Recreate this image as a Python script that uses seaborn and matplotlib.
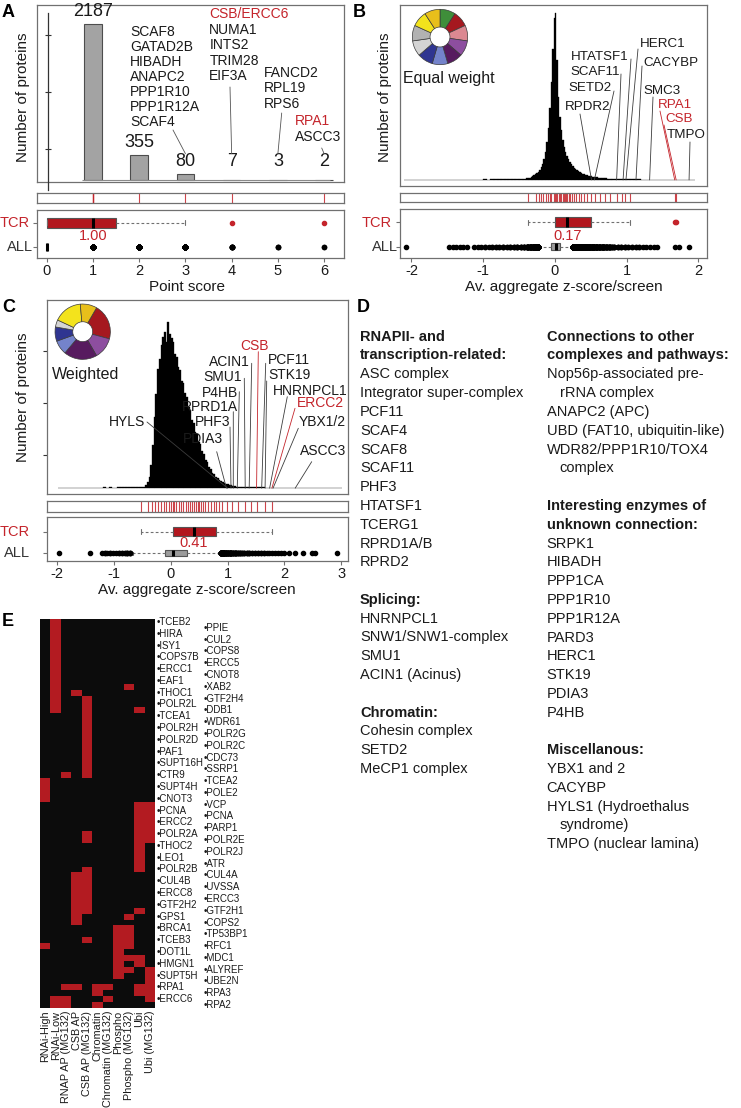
import numpy as np
import pandas as pd
import matplotlib
matplotlib.use("Agg")
import matplotlib.pyplot as plt
from matplotlib.colors import ListedColormap
import seaborn as sns

# ============================ DATA ============================
# ---- Panel A : point score histogram ----
a_scores = [1, 2, 3, 4, 5, 6]
a_counts = [2187, 355, 80, 7, 3, 2]
a_zero_count = 9000                      # proteins with point score 0 (estimated, not drawn as a bar)
a_tcr_scores = [0, 0, 0, 0, 0, 1, 1, 1, 1, 1, 1, 2, 3, 4, 6]
a_genes_s3 = ["SCAF8", "GATAD2B", "HIBADH", "ANAPC2", "PPP1R10", "PPP1R12A", "SCAF4"]
a_genes_s4 = ["CSB/ERCC6", "NUMA1", "INTS2", "TRIM28", "EIF3A"]
a_genes_s5 = ["FANCD2", "RPL19", "RPS6"]
a_genes_s6 = ["RPA1", "ASCC3"]
a_red_genes = ["CSB/ERCC6", "RPA1"]

# ---- Panel B : equal weight z-score histogram (bin counts) ----
b_left_tail_counts = [1, 0, 0, 0, 0, 0, 0, 0, 0, 0, 0, 0, 1, 1, 1, 1, 1, 1, 0, 1,
                      1, 1, 2, 1, 2, 2, 2, 3, 2, 3, 3, 4, 4, 5]            # -2.10 .. -0.40 (0.05 bins)
b_core_counts = [6, 7, 8, 10, 13, 16, 20, 24, 30, 37, 46, 58, 76, 100, 138, 186, 258, 352, 470, 584,
                 600, 432, 300, 228, 180, 144, 120, 102, 87, 75, 66, 57, 50, 44, 39, 34,
                 31, 28, 25, 23, 21, 19, 17, 15, 14, 13, 12, 11, 10, 9, 8, 8, 7, 7, 6, 6, 5, 5, 5, 4]  # -0.40 .. 0.80 (0.02 bins)
b_right_tail_counts = [4, 3, 3, 3, 2, 2, 2, 2, 1, 1, 1, 1, 1, 0, 0, 0, 0, 1, 1, 0, 0, 1, 0]  # 0.80 .. 1.95 (0.05 bins)
b_tcr = [-0.38, -0.27, -0.22, -0.19, -0.16, -0.13, -0.10, -0.07, -0.05, -0.02, 0.00,
         0.02, 0.03, 0.05, 0.07, 0.09, 0.11, 0.13, 0.14, 0.16, 0.17,
         0.19, 0.21, 0.24, 0.27, 0.30, 0.33, 0.37, 0.41, 0.45, 0.50,
         0.56, 0.63, 0.70, 0.77, 0.86, 0.93, 0.98, 1.05, 1.67, 1.69]
b_gene_names = ["HTATSF1", "SCAF11", "SETD2", "RPDR2", "HERC1", "CACYBP", "SMC3", "RPA1", "CSB", "TMPO"]
b_gene_x = [0.95, 0.86, 0.55, 0.51, 0.99, 1.13, 1.32, 1.67, 1.69, 1.87]
b_red_genes = ["RPA1", "CSB"]
b_wheel_weights = [1, 1, 1, 1, 1, 1, 1, 1, 1, 1, 1]

# ---- Panel C : weighted z-score histogram (bin counts) ----
c_left_tail_counts = [1, 0, 0, 0, 0, 0, 0, 0, 0, 0, 0, 1, 0, 0, 0, 1, 2, 1, 2, 1,
                      1, 2, 2, 2, 3, 3, 3, 4, 4]                            # -1.99 .. -0.54 (0.05 bins)
c_core_counts = [2, 2, 4, 7, 14, 28, 56, 104, 172, 226, 286, 310, 344, 362, 376, 352, 400, 370,
                 360, 350, 322, 316, 290, 284, 258, 252, 228, 220, 196, 188, 164, 156, 136, 131,
                 112, 107, 89, 82, 68, 62, 50, 45, 37, 33, 26, 24, 19, 18, 14, 13, 11, 9, 8, 7,
                 6, 5, 4, 4, 4, 3]                                          # -0.54 .. 1.26 (0.03 bins)
c_right_tail_counts = [3, 3, 3, 2, 2, 2, 2, 2, 1, 1, 1, 1, 1, 1, 1, 0, 1, 0, 1, 0,
                       0, 1, 0, 0, 1, 1, 0, 0, 0, 0, 0, 0, 0, 1, 0]         # 1.26 .. 3.01 (0.05 bins)
c_tcr = [-0.53, -0.40, -0.33, -0.27, -0.22, -0.17, -0.12, -0.08, -0.04, 0.00, 0.03,
         0.06, 0.10, 0.14, 0.18, 0.22, 0.26, 0.30, 0.34, 0.38, 0.41,
         0.44, 0.47, 0.50, 0.53, 0.57, 0.61, 0.66, 0.71, 0.76, 0.80,
         0.84, 0.90, 0.99, 1.07, 1.19, 1.31, 1.42, 1.51, 1.66, 1.78]
c_gene_names = ["HYLS", "PDIA3", "PHF3", "RPRD1A", "P4HB", "SMU1", "ACIN1", "CSB",
                "PCF11", "STK19", "HNRNPCL1", "ERCC2", "YBX1/2", "ASCC3"]
c_gene_x = [1.00, 0.98, 1.06, 1.10, 1.17, 1.31, 1.38, 1.51, 1.60, 1.66, 1.74, 1.78, 1.80, 2.19]
c_red_genes = ["CSB", "ERCC2"]
c_wheel_weights = [0, 75, 0, 45, 70, 30, 30, 15, 0, 60, 35]

# ---- Panel D : text lists ----
d_col1 = [
    (["RNAPII- and", "transcription-related:"],
     ["ASC complex", "Integrator super-complex", "PCF11", "SCAF4", "SCAF8", "SCAF11", "PHF3",
      "HTATSF1", "TCERG1", "RPRD1A/B", "RPRD2"]),
    (["Splicing:"], ["HNRNPCL1", "SNW1/SNW1-complex", "SMU1", "ACIN1 (Acinus)"]),
    (["Chromatin:"], ["Cohesin complex", "SETD2", "MeCP1 complex"]),
]
d_col2 = [
    (["Connections to other", "complexes and pathways:"],
     ["Nop56p-associated pre-", ">rRNA complex", "ANAPC2 (APC)", "UBD (FAT10, ubiquitin-like)",
      "WDR82/PPP1R10/TOX4", ">complex"]),
    (["Interesting enzymes of", "unknown connection:"],
     ["SRPK1", "HIBADH", "PPP1CA", "PPP1R10", "PPP1R12A", "PARD3", "HERC1", "STK19", "PDIA3", "P4HB"]),
    (["Miscellanous:"], ["YBX1 and 2", "CACYBP", "HYLS1 (Hydroethalus", ">syndrome)", "TMPO (nuclear lamina)"]),
]

# ---- Panel E : hit matrix ----
e_columns = ["RNAi-High", "RNAi-Low", "RNAP AP (MG132)", "CSB AP", "CSB AP (MG132)", "Chromatin",
             "Chromatin (MG132)", "Phospho", "Phospho (MG132)", "Ubi", "Ubi (MG132)"]
e_genes_left = ["TCEB2", "HIRA", "ISY1", "COPS7B", "ERCC1", "EAF1", "THOC1", "POLR2L", "TCEA1",
                "POLR2H", "POLR2D", "PAF1", "SUPT16H", "CTR9", "SUPT4H", "CNOT3", "PCNA", "ERCC2",
                "POLR2A", "THOC2", "LEO1", "POLR2B", "CUL4B", "ERCC8", "GTF2H2", "GPS1", "BRCA1",
                "TCEB3", "DOT1L", "HMGN1", "SUPT5H", "RPA1", "ERCC6"]
e_genes_right = ["PPIE", "CUL2", "COPS8", "ERCC5", "CNOT8", "XAB2", "GTF2H4", "DDB1", "WDR61",
                 "POLR2G", "POLR2C", "CDC73", "SSRP1", "TCEA2", "POLE2", "VCP", "PCNA", "PARP1",
                 "POLR2E", "POLR2J", "ATR", "CUL4A", "UVSSA", "ERCC3", "GTF2H1", "COPS2", "TP53BP1",
                 "RFC1", "MDC1", "ALYREF", "UBE2N", "RPA3", "RPA2"]
# row indices (rows interleave left/right gene lists) where each dataset scored a hit
e_hits = {
    "RNAi-High": [27, 28, 29, 30, 55],
    "RNAi-Low": [0, 1, 2, 3, 4, 5, 6, 7, 8, 9, 10, 11, 12, 13, 14, 15, 64, 65],
    "RNAP AP (MG132)": [26, 62, 64, 65],
    "CSB AP": [12, 43, 44, 45, 46, 47, 48, 49, 50, 51, 62],
    "CSB AP (MG132)": [13, 14, 15, 16, 17, 18, 19, 20, 21, 22, 23, 24, 25, 26, 36, 37,
                       42, 43, 44, 45, 46, 47, 48, 49, 54],
    "Chromatin": [62, 63, 65],
    "Chromatin (MG132)": [62, 64],
    "Phospho": [52, 53, 54, 55, 56, 57, 58, 59, 60],
    "Phospho (MG132)": [11, 50, 52, 53, 54, 55, 57, 59],
    "Ubi": [15, 31, 32, 33, 34, 35, 36, 37, 38, 39, 40, 41, 42, 49, 57, 58, 62, 63],
    "Ubi (MG132)": [31, 32, 33, 34, 35, 36, 37, 59, 60, 61, 62, 63, 64],
}

# ============================ STYLE ============================
W, H = 741, 1108
RED = "#C4242B"
BOXRED = "#B2171E"
HEATRED = "#B31B21"
FRAME = "#707070"
TXT = "#1a1a1a"
wheel_colors = ["#3F8E3A", "#A5181F", "#DB8891", "#8D4E9F", "#571B5F", "#7483CB",
                "#2F3591", "#D4D4D4", "#B2B2B2", "#F3E31C", "#E8BF1B"]

sns.set_style("white")
plt.rcParams["font.family"] = ["Liberation Sans", "DejaVu Sans"]
plt.rcParams["axes.linewidth"] = 0.9

fig = plt.figure(figsize=(W / 100, H / 100), dpi=100)


def add_ax(x0, y0, x1, y1):
    return fig.add_axes([x0 / W, 1 - y1 / H, (x1 - x0) / W, (y1 - y0) / H])


def ftext(x, y, s, **kw):
    kw.setdefault("color", TXT)
    return fig.text(x / W, 1 - y / H, s, **kw)


def framed(ax):
    for sp in ax.spines.values():
        sp.set_visible(True)
        sp.set_color(FRAME)
        sp.set_linewidth(0.9)


def leader(ax, gx, start, color, ycoord="data", gy=0):
    ax.annotate("", xy=(gx, gy), xycoords=("data", ycoord),
                xytext=(start[0], H - start[1]), textcoords="figure pixels",
                arrowprops=dict(arrowstyle="-", color=color, lw=0.6, shrinkA=0, shrinkB=0))


def hist_from_bins(ax, edges, counts):
    centers = (edges[:-1] + edges[1:]) / 2
    dfh = pd.DataFrame({"center": centers, "count": np.asarray(counts, dtype=float)})
    sns.histplot(data=dfh, x="center", weights="count", bins=list(edges), ax=ax, color="black",
                 edgecolor="black", linewidth=0.25, alpha=1, stat="count")
    ax.set_xlabel("")
    ax.set_ylabel("")
    return np.repeat(centers, counts)


def rug(ax, values, xlim):
    sns.rugplot(x=values, ax=ax, height=1, color=RED, linewidth=0.8, alpha=0.85, expand_margins=False)
    ax.set_xlim(*xlim)
    ax.set_ylim(0, 1)
    ax.set_xticks([])
    ax.set_yticks([])
    ax.set_xlabel("")
    framed(ax)


def boxes(ax, tcr_vals, all_vals, xlim, ticks, ylim=(1.46, -0.54), label_y=0.56):
    df_t = pd.DataFrame({"group": "TCR", "value": np.asarray(tcr_vals, dtype=float)})
    df_a = pd.DataFrame({"group": "ALL", "value": np.asarray(all_vals, dtype=float)})
    common = dict(x="value", y="group", order=["TCR", "ALL"], orient="h", whis=1.5, ax=ax,
                  saturation=1, linecolor="#555555", linewidth=0.8,
                  whiskerprops=dict(linestyle=(0, (2.5, 2)), color="#707070", linewidth=0.8),
                  capprops=dict(color="#707070", linewidth=0.8),
                  medianprops=dict(color="black", linewidth=2.2))
    sns.boxplot(data=df_t, color=BOXRED, width=0.42,
                flierprops=dict(marker="o", markersize=3, markerfacecolor=RED, markeredgecolor=RED),
                **common)
    sns.boxplot(data=df_a, color="#9c9c9c", width=0.3,
                flierprops=dict(marker="o", markersize=3, markerfacecolor="black",
                                markeredgecolor="black"),
                **common)
    med = np.median(tcr_vals)
    ax.text(med, label_y, f"{med:.2f}", color=RED, ha="center", va="center", fontsize=10.5)
    ax.set_xlim(*xlim)
    ax.set_ylim(*ylim)
    ax.set_xticks(ticks)
    ax.set_xticklabels([f"{t:g}" for t in ticks])
    ax.set_yticks([0, 1])
    ax.set_yticklabels([])
    ax.set_xlabel("")
    ax.set_ylabel("")
    ax.tick_params(axis="x", bottom=True, direction="out", length=3, pad=1, labelsize=10.5,
                   color=FRAME, labelcolor=TXT)
    ax.tick_params(axis="y", left=True, direction="out", length=3, color=FRAME)
    framed(ax)


def wheel(cx, cy, r, weights):
    ax = add_ax(cx - r, cy - r, cx + r, cy + r)
    w = [v for v in weights if v > 0]
    c = [col for v, col in zip(weights, wheel_colors) if v > 0]
    start = 90 if len(set(weights)) == 1 else 60
    ax.pie(w, colors=c, startangle=start, counterclock=False, radius=1,
           wedgeprops=dict(width=0.64, edgecolor="#3a3a3a", linewidth=0.5))
    ax.set_xlim(-1.03, 1.03)
    ax.set_ylim(-1.03, 1.03)
    ax.set_aspect("equal")
    ax.axis("off")


# ============================ PANEL A ============================
A_XLIM = (-0.21, 6.43)
axA = add_ax(37, 5, 344, 182)
sns.barplot(x=a_scores, y=a_counts, native_scale=True, width=0.38, color="#a3a3a3",
            edgecolor="#4d4d4d", linewidth=0.8, saturation=1, errorbar=None, ax=axA)
axA.set_xlim(*A_XLIM)
axA.set_ylim(-28, 2454)
axA.hlines(0, 0.76, 6.13, color="#8a8a8a", lw=0.8)
for s, c in zip(a_scores, a_counts):
    axA.annotate(str(c), xy=(s, max(c, 80)), xytext=(0, 3), textcoords="offset points",
                 ha="center", va="bottom", fontsize=13, color=TXT)
axA.set_xticks([])
axA.set_yticks([])
axA.set_xlabel("")
axA.set_ylabel("")
framed(axA)

axAy = add_ax(48, 5, 344, 182)
axAy.patch.set_visible(False)
for k, sp in axAy.spines.items():
    sp.set_visible(k == "left")
axAy.spines["left"].set_color("#333333")
axAy.spines["left"].set_bounds(-140, 2340)
axAy.set_ylim(-28, 2454)
axAy.set_yticks([440, 1240, 2030])
axAy.set_xticks([])
axAy.tick_params(axis="y", left=True, direction="inout", length=5, labelleft=False, color="#333333")

a_lists = [(a_genes_s3, 3, (130, 31.7), 15.0, (173, 130)),
           (a_genes_s4, 4, (209.3, 14.0), 15.6, (230, 87)),
           (a_genes_s5, 5, (264.3, 72.7), 15.6, (281.7, 113)),
           (a_genes_s6, 6, (295.0, 120.7), 16.0, (321.7, 148))]
for genes, score, (tx, ty), step, start in a_lists:
    for i, g in enumerate(genes):
        ftext(tx, ty + i * step, g, ha="left", va="center", fontsize=10,
              color=RED if g in a_red_genes else TXT)
    leader(axA, score, start, "#555555", ycoord="axes fraction", gy=0.16)

ftext(23, 97.5, "Number of proteins", rotation=90, ha="center", va="center", fontsize=11)

axAr = add_ax(37, 193, 344, 203)
rug(axAr, [v for v in a_tcr_scores if v > 0], A_XLIM)

a_all = np.repeat([0] + a_scores, [a_zero_count] + a_counts)
axAb = add_ax(37, 210, 344, 258)
boxes(axAb, a_tcr_scores, a_all, A_XLIM, [0, 1, 2, 3, 4, 5, 6])
ftext(30, 223, "TCR", ha="right", va="center", fontsize=10.5, color=RED)
ftext(33, 247, "ALL", ha="right", va="center", fontsize=10.5, color="#333333")
ftext(187.3, 286.7, "Point score", ha="center", va="center", fontsize=11)

# ============================ PANEL B ============================
B_XLIM = (-2.16, 2.12)
b_edges = np.concatenate([np.linspace(-2.10, -0.40, 35)[:-1], np.linspace(-0.40, 0.80, 61)[:-1],
                          np.linspace(0.80, 1.95, 24)])
b_counts = np.array(b_left_tail_counts + b_core_counts + b_right_tail_counts)
axB = add_ax(400, 5, 707, 186)
b_all = hist_from_bins(axB, b_edges, b_counts)
axB.set_xlim(*B_XLIM)
axB.set_ylim(-22, 630)
axB.set_xticks([])
axB.set_yticks([])
framed(axB)

b_text_layout = [(628, 57, "right"), (620, 72, "right"), (612, 88, "right"), (610, 107, "right"),
                 (640, 44, "left"), (643, 63, "left"), (643, 91, "left"), (658, 104.5, "left"),
                 (665, 118.5, "left"), (667, 135, "left")]
b_line_start = [(631, 59), (621, 74), (614, 91), (580, 114), (638, 49), (642, 66), (653, 97),
                (660, 111), (664, 125), (690, 142)]
for name, gx, (tx, ty, ha), st in zip(b_gene_names, b_gene_x, b_text_layout, b_line_start):
    col = RED if name in b_red_genes else TXT
    ftext(tx, ty, name, ha=ha, va="center", fontsize=9.6, color=col)
    leader(axB, gx, st, RED if name in b_red_genes else "#3c3c3c")

wheel(440, 37, 28.5, b_wheel_weights)
ftext(403, 78, "Equal weight", ha="left", va="center", fontsize=11.5)
ftext(385, 97.5, "Number of proteins", rotation=90, ha="center", va="center", fontsize=11)

axBr = add_ax(400, 193, 707, 202)
rug(axBr, b_tcr, B_XLIM)

axBb = add_ax(400, 209, 707, 258)
boxes(axBb, b_tcr, b_all, B_XLIM, [-2, -1, 0, 1, 2])
ftext(392, 222.7, "TCR", ha="right", va="center", fontsize=10.5, color=RED)
ftext(398, 246.7, "ALL", ha="right", va="center", fontsize=10.5, color="#333333")
ftext(564, 286.7, "Av. aggregate z-score/screen", ha="center", va="center", fontsize=11)

# ============================ PANEL C ============================
C_XLIM = (-2.18, 3.12)
c_edges = np.concatenate([np.linspace(-1.99, -0.54, 30)[:-1], np.linspace(-0.54, 1.26, 61)[:-1],
                          np.linspace(1.26, 3.01, 36)])
c_counts = np.array(c_left_tail_counts + c_core_counts + c_right_tail_counts)
axC = add_ax(47, 300, 348, 494)
c_all = hist_from_bins(axC, c_edges, c_counts)
axC.set_xlim(*C_XLIM)
axC.set_ylim(-14, 452)
axC.set_xticks([])
axC.set_yticks([80, 205, 330])
axC.set_yticklabels([])
axC.tick_params(axis="y", left=True, direction="out", length=3, color="#333333")
framed(axC)

c_text_layout = [(145, 421.7, "right"), (223.3, 439, "right"), (230, 422.3, "right"),
                 (238.3, 406.7, "right"), (238.3, 393.3, "right"), (241.7, 376.7, "right"),
                 (250, 361.7, "right"), (255, 345.7, "center"), (268.3, 360, "left"),
                 (268.3, 375, "left"), (272.7, 391, "left"), (296.7, 403.3, "left"),
                 (298.3, 421.7, "left"), (300, 451, "left")]
c_line_start = [(147, 422), (216.7, 451.7), (230, 427), (233.3, 411.7), (239.3, 391.7),
                (244.3, 378.3), (251.7, 363.3), (258.3, 351.7), (265.7, 363.3), (266.7, 381),
                (287.3, 396.7), (295, 408.3), (298.3, 428.3), (311.7, 461.7)]
for name, gx, (tx, ty, ha), st in zip(c_gene_names, c_gene_x, c_text_layout, c_line_start):
    col = RED if name in c_red_genes else TXT
    ftext(tx, ty, name, ha=ha, va="center", fontsize=10, color=col)
    leader(axC, gx, st, RED if name in c_red_genes else "#3c3c3c")

wheel(82.7, 331.7, 28.5, c_wheel_weights)
ftext(52, 375, "Weighted", ha="left", va="center", fontsize=11.5)
ftext(23, 397.5, "Number of proteins", rotation=90, ha="center", va="center", fontsize=11)

axCr = add_ax(47, 501, 348, 511.7)
rug(axCr, c_tcr, C_XLIM)

axCb = add_ax(47, 517, 348, 561)
boxes(axCb, c_tcr, c_all, C_XLIM, [-2, -1, 0, 1, 2, 3], ylim=(1.36, -0.68), label_y=0.54)
ftext(30, 531.7, "TCR", ha="right", va="center", fontsize=10.5, color=RED)
ftext(30, 553.3, "ALL", ha="right", va="center", fontsize=10.5, color="#333333")
ftext(196.7, 590, "Av. aggregate z-score/screen", ha="center", va="center", fontsize=11)

# ============================ PANEL D ============================
D_Y0, D_STEP = 336.7, 18.8


def text_column(x, blocks):
    idx = 0
    for headers, items in blocks:
        for hline in headers:
            ftext(x, D_Y0 + idx * D_STEP, hline, ha="left", va="center", fontsize=10.5,
                  fontweight="bold")
            idx += 1
        for it in items:
            indent = 13 if it.startswith(">") else 0
            ftext(x + indent, D_Y0 + idx * D_STEP, it.lstrip(">"), ha="left", va="center",
                  fontsize=10.5)
            idx += 1
        idx += 1


text_column(360, d_col1)
text_column(546.7, d_col2)

# ============================ PANEL E ============================
n_rows = len(e_genes_left) + len(e_genes_right)
hit_matrix = np.zeros((n_rows, len(e_columns)), dtype=int)
for j, col in enumerate(e_columns):
    hit_matrix[e_hits[col], j] = 1

axE = add_ax(40, 619, 155, 1008)
sns.heatmap(hit_matrix, cmap=ListedColormap(["#0c0c0c", HEATRED]), vmin=0, vmax=1, cbar=False,
            ax=axE, xticklabels=e_columns, yticklabels=False, linewidths=0)
axE.tick_params(axis="x", bottom=False, length=0, pad=2, labelsize=7.8, labelrotation=90)
for lab in axE.get_xticklabels():
    lab.set_color(TXT)
for i, g in enumerate(e_genes_left):
    axE.text(11.18, 2 * i + 0.5, "\u2022" + g, ha="left", va="center", fontsize=7, color=TXT,
             clip_on=False)
for i, g in enumerate(e_genes_right):
    axE.text(15.69, 2 * i + 1.5, "\u2022" + g, ha="left", va="center", fontsize=7, color=TXT,
             clip_on=False)

# ============================ PANEL LETTERS ============================
for letter, (lx, ly) in zip("ABCDE", [(2, 12.5), (353, 12.5), (2, 307.5), (357, 307.5), (2, 621.5)]):
    ftext(lx, ly, letter, ha="left", va="center", fontsize=13, fontweight="bold", color="black")

fig.savefig("out.png", dpi=100, facecolor="white")
